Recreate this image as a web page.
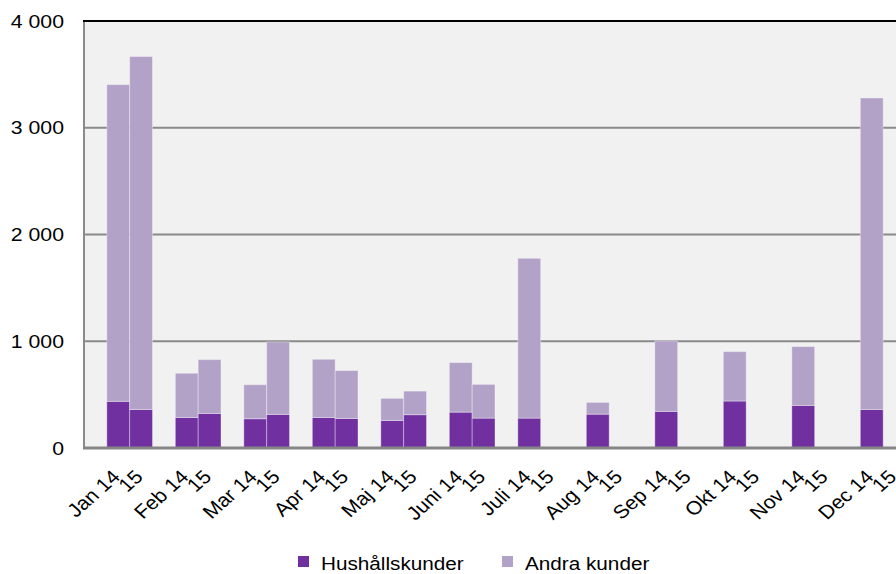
<!DOCTYPE html>
<html>
<head>
<meta charset="utf-8">
<script src="https://cdn.jsdelivr.net/npm/d3@7"></script>
<style>
  body { margin: 0; background: #fff; }
  text { font-family: 'Liberation Sans', Arial, sans-serif; fill: #000; }
</style>
</head>
<body>
<div id="chart"></div>
<script>
let months = ['Jan', 'Feb', 'Mar', 'Apr', 'Maj', 'Juni', 'Juli', 'Aug', 'Sep', 'Okt', 'Nov', 'Dec']
let years = ['14', '15']

// Hushållskunder / Andra kunder per month, 2014 and 2015
let hush14 = [437, 286, 274, 286, 258, 336, 280, 317, 343, 440, 399, 361]
let andra14 = [2967, 414, 319, 545, 207, 464, 1497, 110, 660, 463, 551, 2918]
let hush15 = [361, 324, 315, 277, 312, 280, null, null, null, null, null, null]
let andra15 = [3306, 504, 679, 448, 221, 316, null, null, null, null, null, null]

let yTicks = [0, 1000, 2000, 3000, 4000]
let seriesNames = ['Hushållskunder', 'Andra kunder']
let colors = ['#7030A0', '#B3A2C7']

let width = 896
let height = 574
let margin = { top: 21, left: 84, right: -10, bottom: 126 }

let svg = d3
  .select('#chart')
  .append('svg')
  .attr('width', width)
  .attr('height', height)

let x0 = d3
  .scaleBand()
  .domain(months)
  .range([margin.left, width - margin.right])

let x1 = d3
  .scaleBand()
  .domain(years)
  .range([x0.bandwidth() / 3, x0.bandwidth()])

let y = d3
  .scaleLinear()
  .domain([0, 4000])
  .range([height - margin.bottom, margin.top])

let fmt = d3.formatLocale({ decimal: ',', thousands: ' ', grouping: [3], currency: ['', ''] }).format(',')

// plot background
svg
  .append('rect')
  .attr('x', margin.left)
  .attr('y', y(4000))
  .attr('width', width - margin.left + 20)
  .attr('height', y(0) - y(4000))
  .attr('fill', '#F1F1F1')

// gridlines
svg
  .selectAll('.grid')
  .data(yTicks.filter(d => d > 0 && d < 4000))
  .enter()
  .append('line')
  .attr('class', 'grid')
  .attr('x1', margin.left)
  .attr('x2', width)
  .attr('y1', d => y(d))
  .attr('y2', d => y(d))
  .attr('stroke', '#8a8a8a')
  .attr('stroke-width', 2)

// build stacked rows
let rows = []
months.forEach((m, i) => {
  let data = { '14': [hush14[i], andra14[i]], '15': [hush15[i], andra15[i]] }
  years.forEach(yr => {
    let h = data[yr][0]
    let a = data[yr][1]
    if (h == null) return
    rows.push({ month: m, year: yr, series: 0, y0: 0, y1: h })
    rows.push({ month: m, year: yr, series: 1, y0: h, y1: h + a })
  })
})

svg
  .selectAll('.bar')
  .data(rows)
  .enter()
  .append('rect')
  .attr('class', 'bar')
  .attr('x', d => x0(d.month) + x1(d.year))
  .attr('width', x1.bandwidth())
  .attr('y', d => y(d.y1))
  .attr('height', d => y(d.y0) - y(d.y1))
  .attr('fill', d => colors[d.series])
  .attr('stroke', 'rgba(255,255,255,0.35)')
  .attr('stroke-width', 1)

// left axis line
svg
  .append('line')
  .attr('x1', margin.left)
  .attr('x2', margin.left)
  .attr('y1', y(4000))
  .attr('y2', y(0))
  .attr('stroke', '#8a8a8a')
  .attr('stroke-width', 2)

// top border
svg
  .append('line')
  .attr('x1', margin.left - 1)
  .attr('x2', width)
  .attr('y1', y(4000))
  .attr('y2', y(4000))
  .attr('stroke', '#000')
  .attr('stroke-width', 2)

// baseline
svg
  .append('line')
  .attr('x1', margin.left - 1)
  .attr('x2', width)
  .attr('y1', y(0))
  .attr('y2', y(0))
  .attr('stroke', '#858585')
  .attr('stroke-width', 3)

// y tick labels
svg
  .selectAll('.ytick')
  .data(yTicks)
  .enter()
  .append('text')
  .attr('class', 'ytick')
  .attr('transform', d => `translate(64, ${y(d)}) scale(1.12, 1)`)
  .attr('dy', '0.35em')
  .attr('text-anchor', 'end')
  .style('font-size', '19px')
  .text(d => fmt(d))

// x labels: "Jan 14" under first bar, "15" under second
let xl = svg.append('g')
months.forEach(m => {
  years.forEach((yr, j) => {
    let cx = x0(m) + x1(yr) + x1.bandwidth() / 2
    xl.append('text')
      .attr('transform', `translate(${cx + 3}, 478) scale(1.12, 1) rotate(-45)`)
      .attr('text-anchor', 'end')
      .style('font-size', '19px')
      .text(j === 0 ? m + ' ' + yr : yr)
  })
})

// legend
let legendX = [298, 502]
let legend = svg
  .selectAll('.legend')
  .data(seriesNames)
  .enter()
  .append('g')
  .attr('class', 'legend')
  .attr('transform', (d, i) => `translate(${legendX[i]}, 556)`)

legend
  .append('rect')
  .attr('width', 11)
  .attr('height', 11)
  .attr('fill', (d, i) => colors[i])

legend
  .append('text')
  .attr('transform', 'translate(23, 13.5) scale(1.12, 1)')
  .style('font-size', '18.5px')
  .text(d => d)
</script>
</body>
</html>
